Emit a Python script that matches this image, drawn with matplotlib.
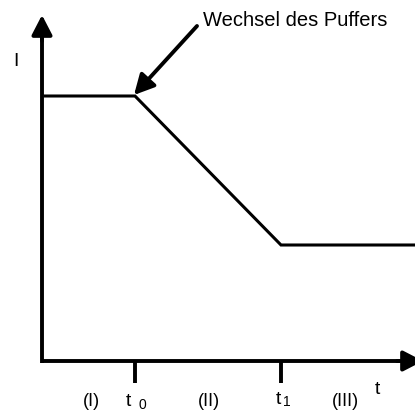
import matplotlib.pyplot as plt

plt.rcParams['font.family'] = ['Liberation Sans', 'DejaVu Sans']

# curve: time points and current levels
t_points = [3, 93, 239, 375]
i_points = [265, 265, 116, 116]
tick_pos = [93, 239]
tick_subs = ['0', '1']
region_pos = [49, 167, 303]
region_labels = ['(I)', '(II)', '(III)']

fig = plt.figure(figsize=(4.15, 4.12), dpi=100)
ax = fig.add_axes([42 / 415, 51 / 412, 373 / 415, 346 / 412])
ax.set_xlim(0, 373)
ax.set_ylim(0, 346)
ax.axis('off')

ax.plot(t_points, i_points, color='black', lw=2.2, clip_on=False, solid_joinstyle='miter')

head = '-|>,head_length=1.2,head_width=0.62'
# axes lines with arrow heads
ax.plot([0, 0], [-1.5, 330], color='black', lw=2.8, clip_on=False, solid_capstyle='butt')
ax.plot([0, 365], [0, 0], color='black', lw=2.8, clip_on=False, solid_capstyle='butt')
ax.annotate('', xy=(0, 346), xytext=(0, 320), annotation_clip=False,
            arrowprops=dict(arrowstyle=head, lw=2.8, color='black', shrinkA=0, shrinkB=0))
ax.annotate('', xy=(381, 0), xytext=(355, 0), annotation_clip=False,
            arrowprops=dict(arrowstyle=head, lw=2.8, color='black', shrinkA=0, shrinkB=0))

# ticks
for x in tick_pos:
    ax.plot([x, x], [0, -22], color='black', lw=2.8, clip_on=False, solid_capstyle='butt')

fig.text(16 / 415, 1 - 61 / 412, 'I', fontsize=14, ha='center', va='center')
fig.text(377 / 415, 1 - 389 / 412, 't', fontsize=14, ha='center', va='center')

# tick labels t0 and t1
ax.text(tick_pos[0] - 7, -41, 't', fontsize=14, ha='center', va='center')
ax.text(tick_pos[0] + 7, -44, tick_subs[0], fontsize=10, ha='center', va='center')
ax.text(tick_pos[1] - 3, -38, 't', fontsize=14, ha='center', va='center')
ax.text(tick_pos[1] + 6, -41, tick_subs[1], fontsize=10, ha='center', va='center')

for x, lab in zip(region_pos, region_labels):
    ax.text(x, -40, lab, fontsize=13, ha='center', va='center')

# annotation
ax.text(161, 341, 'Wechsel des Puffers', fontsize=14.5, ha='left', va='center')
ax.annotate('', xy=(t_points[1] - 1, i_points[1] + 1), xytext=(155, 335), annotation_clip=False,
            arrowprops=dict(arrowstyle=head, lw=2.8, color='black', shrinkA=0, shrinkB=0))

fig.savefig('out.png', dpi=100)
